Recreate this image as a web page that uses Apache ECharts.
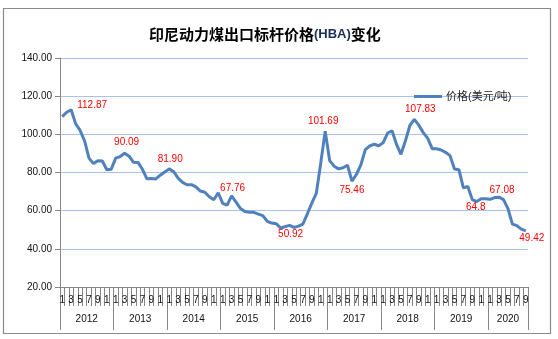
<!DOCTYPE html>
<html>
<head>
<meta charset="utf-8">
<script src="https://cdn.jsdelivr.net/npm/echarts@6/dist/echarts.min.js"></script>
<style>
  html, body { margin: 0; padding: 0; background: #ffffff; }
  #chart { width: 558px; height: 339px; }
</style>
</head>
<body>
<div id="chart"></div>
<script>
// HBA monthly benchmark price (USD/t), one array per year
const years = ['2012', '2013', '2014', '2015', '2016', '2017', '2018', '2019', '2020'];
const price2012 = [109.29, 111.58, 112.87, 105.61, 102.12, 96.65, 87.56, 84.65, 86.21, 86.04, 81.44, 81.75];
const price2013 = [87.55, 88.35, 90.09, 88.56, 85.33, 85.30, 81.69, 76.70, 76.89, 76.61, 78.59, 80.30];
const price2014 = [81.90, 80.44, 77.01, 74.81, 73.60, 73.64, 72.45, 70.29, 69.69, 67.26, 65.70, 69.40];
const price2015 = [63.84, 62.92, 67.76, 64.48, 61.08, 59.59, 59.16, 59.14, 58.21, 57.39, 54.43, 53.51];
const price2016 = [53.20, 50.92, 51.62, 52.32, 51.20, 51.87, 53.00, 58.37, 63.93, 69.04, 84.89, 101.69];
const price2017 = [86.23, 83.32, 81.90, 82.51, 83.81, 75.46, 78.95, 83.97, 92.03, 93.99, 94.80, 94.04];
const price2018 = [95.54, 100.69, 101.86, 94.75, 89.53, 96.61, 104.65, 107.83, 104.81, 100.89, 97.90, 92.51];
const price2019 = [92.41, 91.80, 90.57, 88.85, 81.86, 81.48, 71.92, 72.67, 65.79, 64.80, 66.27, 66.30];
const price2020 = [65.93, 66.89, 67.08, 65.77, 61.11, 52.98, 52.16, 50.34, 49.42];
const yearlyPrices = [price2012, price2013, price2014, price2015, price2016, price2017, price2018, price2019, price2020];

// y-axis ticks
const yTicks = [20, 40, 60, 80, 100, 120, 140];

// points that carry a value label: [month index, decimals shown]
const labelledPoints = [[2, 2], [14, 2], [24, 2], [38, 2], [49, 2], [59, 2], [65, 2], [79, 2], [93, 1], [98, 2], [104, 2]];
// label placement (dx, dy from the point), same order as labelledPoints
const labelOffsets = [[21, -5], [2, -11], [1, -10], [1, -8], [10, 6], [-2, -10], [0, 9], [6, -10], [-1, 6], [3, -7], [6, 7]];

const seriesName = '价格(美元/吨)';

// flatten into month categories
const months = [];
const prices = [];
const yearStarts = [];
yearlyPrices.forEach((arr) => {
  yearStarts.push(months.length);
  arr.forEach((v, m) => {
    months.push(String(m + 1));
    prices.push(v);
  });
});
const total = months.length;
const monthBounds = Array.from({ length: total + 1 }, (_, i) => i);
const yearBounds = yearStarts.concat([total]);
const yearCenters = years.map((_, i) => (yearBounds[i] + yearBounds[i + 1]) / 2);

const lineData = prices.map(v => ({ value: v }));
labelledPoints.forEach(([idx, dec], k) => {
  lineData[idx] = {
    value: prices[idx],
    label: {
      show: true,
      position: 'inside',
      offset: labelOffsets[k],
      color: '#ff0000',
      fontSize: 10,
      fontFamily: 'Liberation Sans',
      formatter: () => prices[idx].toFixed(dec)
    }
  };
});

const axisGrey = '#868686';
const chart = echarts.init(document.getElementById('chart'));
chart.setOption({
  animation: false,
  backgroundColor: '#ffffff',
  title: {
    text: '{a|印尼动力煤出口标杆价格}{b|(HBA)}{a|变化}',
    left: 144,
    top: 22,
    textStyle: {
      rich: {
        a: { fontSize: 15, fontWeight: 'bold', color: '#000000', fontFamily: 'Noto Sans CJK SC' },
        b: { fontSize: 13, fontWeight: 'bold', color: '#1a2f55', fontFamily: 'Liberation Sans' }
      }
    }
  },
  legend: {
    data: [{ name: seriesName, icon: 'rect', itemStyle: { color: '#4f81bd' } }],
    left: 409,
    top: 86,
    itemWidth: 28,
    itemHeight: 3,
    itemGap: 4,
    textStyle: { fontSize: 11, color: '#222', fontFamily: '"Liberation Sans", "Noto Sans CJK SC"', padding: [0, 0, 0, -1] }
  },
  graphic: [{
    type: 'rect',
    shape: { x: 3.5, y: 8.5, width: 547, height: 325 },
    style: { fill: 'none', stroke: '#8a8a8a', lineWidth: 1.2 },
    silent: true
  }],
  grid: { left: 60, right: 30, top: 58, bottom: 52 },
  xAxis: [{
    // month categories carrying the series and the odd-month labels
    type: 'category',
    data: months,
    boundaryGap: true,
    axisLine: { lineStyle: { color: axisGrey, width: 1 } },
    axisTick: { show: false },
    axisLabel: {
      interval: 1,
      fontSize: 10,
      color: '#111',
      fontFamily: 'Liberation Sans',
      margin: 8,
      width: 7,
      overflow: 'truncate',
      ellipsis: ''
    },
    splitLine: { show: false }
  }, {
    // month separators
    type: 'value',
    min: 0,
    max: total,
    position: 'bottom',
    axisLine: { show: false },
    splitLine: { show: false },
    axisTick: { show: true, customValues: monthBounds, length: 19, lineStyle: { color: axisGrey } },
    axisLabel: { show: false }
  }, {
    // year separators and year labels
    type: 'value',
    min: 0,
    max: total,
    position: 'bottom',
    axisLine: { show: false },
    splitLine: { show: false },
    axisTick: { show: true, customValues: yearBounds, length: 43, lineStyle: { color: axisGrey } },
    axisLabel: {
      customValues: yearCenters,
      margin: 27,
      fontSize: 10,
      color: '#111',
      fontFamily: 'Liberation Sans',
      formatter: v => years[yearCenters.indexOf(v)] || ''
    }
  }],
  yAxis: {
    type: 'value',
    min: yTicks[0],
    max: yTicks[yTicks.length - 1],
    interval: yTicks[1] - yTicks[0],
    axisLine: { show: true, lineStyle: { color: axisGrey } },
    axisTick: { show: true, length: 5, lineStyle: { color: axisGrey } },
    axisLabel: {
      formatter: v => v.toFixed(2),
      fontSize: 10,
      color: '#111',
      fontFamily: 'Liberation Sans',
      margin: 8
    },
    splitLine: { lineStyle: { color: '#a9c4ea', width: 1 } }
  },
  series: [{
    name: seriesName,
    type: 'line',
    xAxisIndex: 0,
    data: lineData,
    symbol: 'circle',
    symbolSize: 2,
    showSymbol: true,
    itemStyle: { color: 'rgba(0,0,0,0)' },
    lineStyle: { color: '#4f81bd', width: 3 },
    emphasis: { disabled: true }
  }]
});
</script>
</body>
</html>
